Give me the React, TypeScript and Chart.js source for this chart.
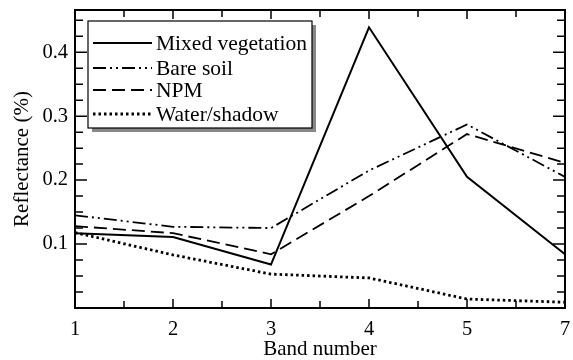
import React, { useEffect, useRef } from "react";
import { Chart, registerables } from "chart.js";

Chart.register(...registerables);

const bands = ["1", "2", "3", "4", "5", "7"];
const mixedVegetation = [0.117, 0.111, 0.068, 0.439, 0.205, 0.084];
const bareSoil = [0.145, 0.127, 0.125, 0.215, 0.287, 0.205];
const npm = [0.128, 0.117, 0.084, 0.175, 0.272, 0.227];
const waterShadow = [0.118, 0.083, 0.053, 0.047, 0.014, 0.009];
const yTicks = [0.1, 0.2, 0.3, 0.4];

const FONT = "'Liberation Serif', 'DejaVu Serif', serif";

const framePlugin = {
  id: "frameTicks",
  afterDatasetsDraw(chart: any) {
    const { ctx, chartArea: a, scales } = chart;
    const x = scales.x;
    const y = scales.y;
    ctx.save();
    ctx.strokeStyle = "#000";
    ctx.lineWidth = 2;
    ctx.strokeRect(a.left, a.top, a.right - a.left, a.bottom - a.top);
    ctx.lineWidth = 1.5;
    ctx.beginPath();
    for (let i = 0; i < bands.length; i++) {
      for (const f of [0, 0.5]) {
        const v = i + f;
        if (v > bands.length - 1) continue;
        const px = x.getPixelForValue(v);
        const len = f === 0 ? 9 : 7;
        ctx.moveTo(px, a.bottom);
        ctx.lineTo(px, a.bottom - len);
        ctx.moveTo(px, a.top);
        ctx.lineTo(px, a.top + len);
      }
    }
    for (let k = 1; k * 0.025 <= y.max + 1e-9; k++) {
      const v = k * 0.025;
      const py = y.getPixelForValue(v);
      const major = k % 4 === 0;
      const len = major ? 12 : 8;
      ctx.moveTo(a.left, py);
      ctx.lineTo(a.left + len, py);
      ctx.moveTo(a.right, py);
      ctx.lineTo(a.right - len, py);
    }
    ctx.stroke();
    ctx.restore();
  },
  afterDraw(chart: any) {
    const { ctx } = chart;
    const bx = 88, by = 21, bw = 224, bh = 107;
    ctx.save();
    ctx.fillStyle = "#888";
    ctx.fillRect(bx + 4, by + 4, bw, bh);
    ctx.fillStyle = "#fff";
    ctx.fillRect(bx, by, bw, bh);
    ctx.strokeStyle = "#000";
    ctx.lineWidth = 1.2;
    ctx.strokeRect(bx, by, bw, bh);
    const rows = [43, 68, 90, 114];
    chart.data.datasets.forEach((ds: any, i: number) => {
      const yy = rows[i];
      ctx.save();
      ctx.strokeStyle = "#000";
      ctx.lineWidth = ds.borderWidth;
      ctx.setLineDash(ds.borderDash || []);
      ctx.beginPath();
      ctx.moveTo(93, yy);
      ctx.lineTo(152, yy);
      ctx.stroke();
      ctx.restore();
      ctx.fillStyle = "#000";
      ctx.font = `21.5px ${FONT}`;
      ctx.textBaseline = "middle";
      ctx.textAlign = "left";
      ctx.fillText(ds.label, 156, yy + 1);
    });
    ctx.restore();
  },
};

export default function App() {
  const ref = useRef<HTMLCanvasElement>(null);
  useEffect(() => {
    if (!ref.current) return;
    const chart = new Chart(ref.current, {
      type: "line",
      data: {
        labels: bands,
        datasets: [
          { label: "Mixed vegetation", data: mixedVegetation, borderColor: "#000", borderWidth: 2, borderDash: [], pointRadius: 0, fill: false, tension: 0 },
          { label: "Bare soil", data: bareSoil, borderColor: "#000", borderWidth: 1.8, borderDash: [13, 4, 2, 4, 2, 4], pointRadius: 0, fill: false, tension: 0 },
          { label: "NPM", data: npm, borderColor: "#000", borderWidth: 1.8, borderDash: [13, 6], pointRadius: 0, fill: false, tension: 0 },
          { label: "Water/shadow", data: waterShadow, borderColor: "#000", borderWidth: 2.8, borderDash: [2.5, 3], pointRadius: 0, fill: false, tension: 0 },
        ],
      },
      options: {
        animation: false,
        responsive: false,
        maintainAspectRatio: false,
        layout: { padding: { top: 10, right: 8, left: 0, bottom: 0 } },
        plugins: { legend: { display: false }, tooltip: { enabled: false } },
        scales: {
          x: {
            type: "category",
            offset: false,
            grid: { display: false, drawTicks: false },
            border: { display: false },
            ticks: { color: "#000", font: { family: FONT, size: 20.5 }, padding: 9, maxRotation: 0, autoSkip: false },
            title: { display: true, text: "Band number", color: "#000", font: { family: FONT, size: 21, lineHeight: 1 }, padding: { top: 0, bottom: 0 } },
            afterFit(scale: any) { scale.height = 52; scale.paddingRight = 0; scale.paddingLeft = 0; },
          },
          y: {
            type: "linear",
            min: 0,
            max: 0.466,
            grid: { display: false, drawTicks: false },
            border: { display: false },
            afterBuildTicks(scale: any) { scale.ticks = yTicks.map((v) => ({ value: v })); },
            ticks: { color: "#000", font: { family: FONT, size: 20.5 }, padding: 7, callback: (v: any) => String(v) },
            title: { display: true, text: "Reflectance (%)", color: "#000", font: { family: FONT, size: 21, lineHeight: 1 }, padding: { top: 12, bottom: 0 } },
            afterFit(scale: any) { scale.width = 75; scale.paddingTop = 0; scale.paddingBottom = 0; },
          },
        },
      },
      plugins: [framePlugin],
    } as any);
    return () => chart.destroy();
  }, []);
  return (
    <div style={{ position: "fixed", left: 0, top: 0, width: 573, height: 360, background: "#fff" }}>
      <canvas ref={ref} width={573} height={360} style={{ width: 573, height: 360 }} />
    </div>
  );
}
